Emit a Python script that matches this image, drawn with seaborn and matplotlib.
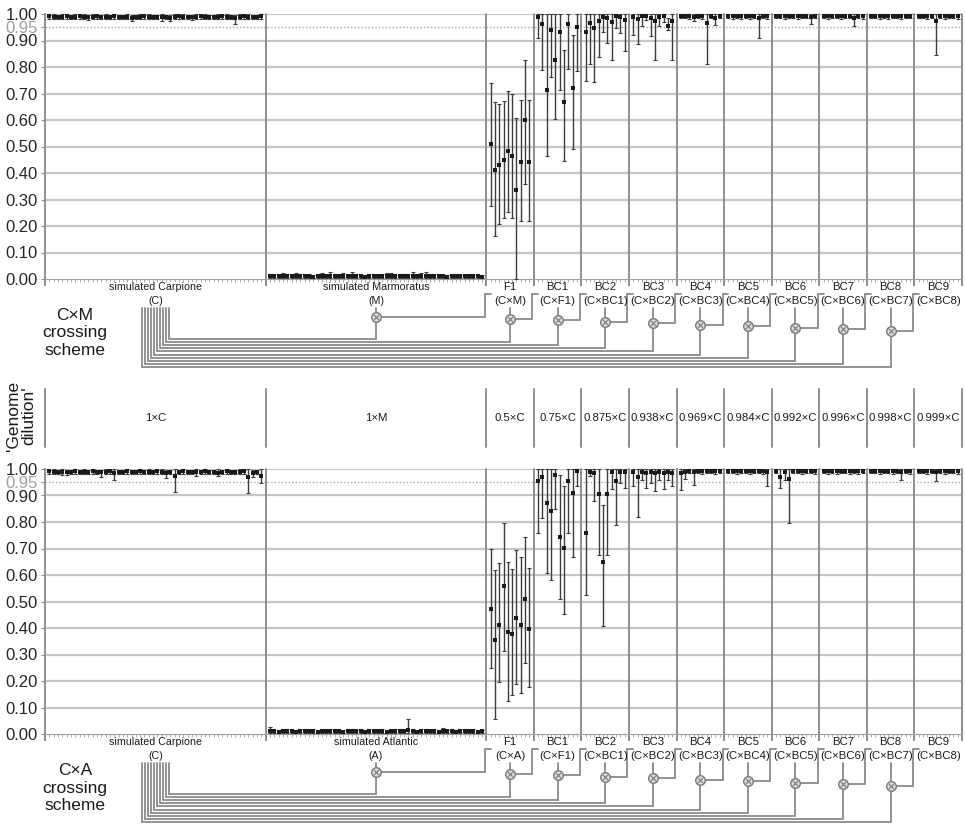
import numpy as np
import pandas as pd
import matplotlib
matplotlib.use("Agg")
import matplotlib.pyplot as plt
import seaborn as sns

sns.set_theme(style="white")
plt.rcParams['font.family'] = ['Liberation Sans', 'DejaVu Sans']

# === 数据 ===
names_cm = ["simulated Carpione", "simulated Marmoratus", "F1", "BC1", "BC2", "BC3",
            "BC4", "BC5", "BC6", "BC7", "BC8", "BC9"]
parents_cm = ["(C)", "(M)", "(C×M)", "(C×F1)", "(C×BC1)", "(C×BC2)", "(C×BC3)",
              "(C×BC4)", "(C×BC5)", "(C×BC6)", "(C×BC7)", "(C×BC8)"]
names_ca = ["simulated Carpione", "simulated Atlantic", "F1", "BC1", "BC2", "BC3",
            "BC4", "BC5", "BC6", "BC7", "BC8", "BC9"]
parents_ca = ["(C)", "(A)", "(C×A)", "(C×F1)", "(C×BC1)", "(C×BC2)", "(C×BC3)",
              "(C×BC4)", "(C×BC5)", "(C×BC6)", "(C×BC7)", "(C×BC8)"]
dilution = ["1×C", "1×M", "0.5×C", "0.75×C", "0.875×C", "0.938×C", "0.969×C",
            "0.984×C", "0.992×C", "0.996×C", "0.998×C", "0.999×C"]

# --- C x M ---
carp_cm_mean = [0.991, 0.990, 0.989, 0.990, 0.991, 0.989, 0.990, 0.991, 0.990, 0.988,
                0.990, 0.991, 0.989, 0.990, 0.990, 0.991, 0.989, 0.990, 0.990, 0.986,
                0.990, 0.989, 0.991, 0.990, 0.989, 0.990, 0.987, 0.990, 0.986, 0.990,
                0.991, 0.989, 0.990, 0.988, 0.990, 0.991, 0.989, 0.990, 0.990, 0.989,
                0.991, 0.990, 0.989, 0.984, 0.990, 0.991, 0.990, 0.989, 0.990, 0.991]
carp_cm_lo = [0.983, 0.982, 0.980, 0.983, 0.982, 0.981, 0.983, 0.982, 0.983, 0.979,
              0.982, 0.983, 0.981, 0.982, 0.983, 0.982, 0.980, 0.982, 0.983, 0.972,
              0.982, 0.981, 0.983, 0.982, 0.980, 0.982, 0.975, 0.982, 0.973, 0.982,
              0.983, 0.981, 0.982, 0.978, 0.982, 0.983, 0.980, 0.982, 0.983, 0.981,
              0.982, 0.983, 0.980, 0.962, 0.982, 0.983, 0.982, 0.980, 0.982, 0.983]
carp_cm_hi = [0.998, 0.999, 0.998, 0.999, 0.998, 0.998, 0.999, 0.998, 0.999, 0.998,
              0.999, 0.998, 0.998, 0.999, 0.998, 0.999, 0.998, 0.998, 0.999, 0.998,
              0.998, 0.999, 0.998, 0.999, 0.998, 0.998, 0.999, 0.998, 0.998, 0.999,
              0.998, 0.999, 0.998, 0.998, 0.999, 0.998, 0.999, 0.998, 0.998, 0.999,
              0.998, 0.999, 0.998, 0.998, 0.999, 0.998, 0.999, 0.998, 0.998, 0.999]
marm_mean = [0.010, 0.011, 0.010, 0.012, 0.011, 0.010, 0.012, 0.011, 0.010, 0.011,
             0.009, 0.010, 0.011, 0.010, 0.012, 0.011, 0.010, 0.011, 0.010, 0.012,
             0.011, 0.010, 0.009, 0.010, 0.011, 0.010, 0.010, 0.011, 0.012, 0.010,
             0.011, 0.010, 0.011, 0.012, 0.010, 0.011, 0.012, 0.011, 0.010, 0.011,
             0.010, 0.009, 0.010, 0.011, 0.010, 0.010, 0.011, 0.010, 0.010, 0.009]
marm_lo = [0.004, 0.005, 0.004, 0.005, 0.004, 0.004, 0.005, 0.004, 0.004, 0.005,
           0.003, 0.004, 0.005, 0.004, 0.005, 0.004, 0.004, 0.005, 0.004, 0.005,
           0.004, 0.004, 0.003, 0.004, 0.005, 0.004, 0.004, 0.005, 0.005, 0.004,
           0.004, 0.004, 0.005, 0.005, 0.004, 0.004, 0.005, 0.004, 0.004, 0.005,
           0.004, 0.003, 0.004, 0.005, 0.004, 0.004, 0.004, 0.004, 0.004, 0.003]
marm_hi = [0.017, 0.019, 0.016, 0.022, 0.018, 0.016, 0.024, 0.019, 0.016, 0.020,
           0.015, 0.017, 0.021, 0.016, 0.025, 0.019, 0.016, 0.022, 0.017, 0.025,
           0.019, 0.016, 0.015, 0.017, 0.020, 0.016, 0.017, 0.021, 0.024, 0.016,
           0.020, 0.017, 0.019, 0.025, 0.017, 0.022, 0.026, 0.020, 0.017, 0.019,
           0.016, 0.015, 0.017, 0.019, 0.016, 0.016, 0.018, 0.016, 0.016, 0.015]
f1_cm_mean = [0.508, 0.412, 0.430, 0.448, 0.483, 0.465, 0.334, 0.440, 0.601, 0.440]
f1_cm_lo = [0.274, 0.163, 0.206, 0.231, 0.253, 0.231, 0.000, 0.218, 0.359, 0.218]
f1_cm_hi = [0.740, 0.668, 0.662, 0.672, 0.710, 0.700, 0.609, 0.675, 0.826, 0.675]
bc1_cm_mean = [0.990, 0.962, 0.715, 0.939, 0.828, 0.933, 0.668, 0.962, 0.719, 0.952]
bc1_cm_lo = [0.908, 0.788, 0.465, 0.763, 0.605, 0.715, 0.445, 0.794, 0.490, 0.786]
bc1_cm_hi = [1.000, 1.000, 1.000, 1.000, 1.000, 1.000, 0.866, 1.000, 0.921, 1.000]
bc2_cm_mean = [0.933, 0.967, 0.946, 0.975, 0.990, 0.984, 0.971, 0.992, 0.987, 0.977]
bc2_cm_lo = [0.748, 0.813, 0.745, 0.836, 0.933, 0.892, 0.828, 0.946, 0.927, 0.860]
bc2_cm_hi = [1.000, 1.000, 1.000, 1.000, 1.000, 1.000, 1.000, 1.000, 1.000, 1.000]
bc3_cm_mean = [0.987, 0.980, 0.992, 0.994, 0.985, 0.975, 0.990, 0.992, 0.955, 0.975]
bc3_cm_lo = [0.921, 0.886, 0.955, 0.977, 0.917, 0.828, 0.955, 0.971, 0.940, 0.826]
bc3_cm_hi = [1.000, 1.000, 1.000, 1.000, 1.000, 1.000, 1.000, 1.000, 0.985, 1.000]
bc4_cm_mean = [0.993, 0.993, 0.992, 0.990, 0.993, 0.992, 0.967, 0.993, 0.985, 0.993]
bc4_cm_lo = [0.985, 0.985, 0.980, 0.975, 0.985, 0.983, 0.813, 0.985, 0.958, 0.985]
bc4_cm_hi = [0.999, 0.999, 0.999, 0.999, 0.999, 0.999, 1.000, 0.999, 1.000, 0.999]
bc5_cm_mean = [0.993, 0.992, 0.993, 0.991, 0.993, 0.992, 0.993, 0.984, 0.993, 0.992]
bc5_cm_lo = [0.985, 0.983, 0.985, 0.980, 0.985, 0.983, 0.985, 0.908, 0.985, 0.983]
bc5_cm_hi = [0.999, 0.999, 0.999, 0.999, 0.999, 0.999, 0.999, 1.000, 0.999, 0.999]
bc6_cm_mean = [0.993, 0.993, 0.992, 0.993, 0.993, 0.992, 0.993, 0.993, 0.988, 0.993]
bc6_cm_lo = [0.985, 0.985, 0.983, 0.985, 0.985, 0.983, 0.985, 0.985, 0.962, 0.985]
bc6_cm_hi = [0.999, 0.999, 0.999, 0.999, 0.999, 0.999, 0.999, 0.999, 1.000, 0.999]
bc7_cm_mean = [0.993, 0.992, 0.993, 0.993, 0.992, 0.993, 0.993, 0.986, 0.993, 0.992]
bc7_cm_lo = [0.985, 0.983, 0.985, 0.985, 0.983, 0.985, 0.985, 0.955, 0.985, 0.983]
bc7_cm_hi = [0.999, 0.999, 0.999, 0.999, 0.999, 0.999, 0.999, 1.000, 0.999, 0.999]
bc8_cm_mean = [0.993, 0.993, 0.992, 0.993, 0.992, 0.993, 0.993, 0.992, 0.993, 0.993]
bc8_cm_lo = [0.985, 0.985, 0.983, 0.985, 0.982, 0.985, 0.985, 0.983, 0.985, 0.985]
bc8_cm_hi = [0.999, 0.999, 0.999, 0.999, 0.999, 0.999, 0.999, 0.999, 0.999, 0.999]
bc9_cm_mean = [0.993, 0.993, 0.992, 0.993, 0.975, 0.993, 0.992, 0.993, 0.993, 0.992]
bc9_cm_lo = [0.985, 0.985, 0.983, 0.985, 0.847, 0.985, 0.983, 0.985, 0.985, 0.980]
bc9_cm_hi = [0.999, 0.999, 0.999, 0.999, 1.000, 0.999, 0.999, 0.999, 0.999, 0.999]

# --- C x A ---
carp_ca_mean = [0.991, 0.990, 0.990, 0.988, 0.988, 0.990, 0.991, 0.990, 0.989, 0.990,
                0.991, 0.990, 0.987, 0.990, 0.991, 0.984, 0.990, 0.989, 0.991, 0.990,
                0.990, 0.991, 0.989, 0.990, 0.990, 0.991, 0.989, 0.986, 0.990, 0.975,
                0.990, 0.991, 0.989, 0.990, 0.987, 0.990, 0.991, 0.990, 0.989, 0.986,
                0.990, 0.991, 0.990, 0.989, 0.990, 0.991, 0.968, 0.986, 0.990, 0.975]
carp_ca_lo = [0.983, 0.982, 0.982, 0.978, 0.978, 0.982, 0.983, 0.982, 0.981, 0.982,
              0.983, 0.982, 0.970, 0.982, 0.983, 0.959, 0.982, 0.981, 0.983, 0.982,
              0.982, 0.983, 0.981, 0.982, 0.982, 0.983, 0.981, 0.965, 0.982, 0.913,
              0.982, 0.983, 0.981, 0.982, 0.975, 0.982, 0.983, 0.982, 0.981, 0.975,
              0.982, 0.983, 0.982, 0.981, 0.982, 0.983, 0.908, 0.970, 0.982, 0.949]
carp_ca_hi = [0.998, 0.999, 0.998, 0.999, 0.998, 0.998, 0.999, 0.998, 0.999, 0.998,
              0.999, 0.998, 0.998, 0.999, 0.998, 0.999, 0.998, 0.998, 0.999, 0.998,
              0.998, 0.999, 0.998, 0.999, 0.998, 0.998, 0.999, 0.998, 0.998, 1.000,
              0.998, 0.999, 0.998, 0.998, 0.999, 0.998, 0.999, 0.998, 0.998, 0.999,
              0.998, 0.999, 0.998, 0.998, 0.999, 0.998, 1.000, 0.998, 0.998, 1.000]
atl_mean = [0.012, 0.010, 0.009, 0.010, 0.011, 0.010, 0.009, 0.010, 0.011, 0.010,
            0.010, 0.009, 0.011, 0.010, 0.010, 0.011, 0.010, 0.009, 0.010, 0.011,
            0.010, 0.010, 0.009, 0.010, 0.011, 0.010, 0.010, 0.009, 0.010, 0.011,
            0.010, 0.010, 0.014, 0.010, 0.009, 0.010, 0.011, 0.010, 0.010, 0.009,
            0.011, 0.010, 0.010, 0.009, 0.010, 0.011, 0.010, 0.010, 0.009, 0.010]
atl_lo = [0.004, 0.003, 0.003, 0.004, 0.004, 0.003, 0.003, 0.004, 0.004, 0.003,
          0.004, 0.003, 0.004, 0.003, 0.004, 0.004, 0.003, 0.003, 0.004, 0.004,
          0.003, 0.004, 0.003, 0.004, 0.004, 0.003, 0.004, 0.003, 0.003, 0.004,
          0.004, 0.003, 0.004, 0.004, 0.003, 0.004, 0.004, 0.003, 0.004, 0.003,
          0.004, 0.003, 0.004, 0.003, 0.004, 0.004, 0.003, 0.004, 0.003, 0.004]
atl_hi = [0.028, 0.016, 0.015, 0.017, 0.019, 0.016, 0.015, 0.017, 0.018, 0.016,
          0.017, 0.015, 0.019, 0.016, 0.017, 0.020, 0.016, 0.015, 0.017, 0.019,
          0.016, 0.017, 0.015, 0.017, 0.020, 0.016, 0.017, 0.015, 0.016, 0.019,
          0.017, 0.016, 0.055, 0.017, 0.015, 0.017, 0.019, 0.016, 0.017, 0.015,
          0.021, 0.016, 0.017, 0.015, 0.017, 0.019, 0.016, 0.017, 0.015, 0.016]
f1_ca_mean = [0.472, 0.354, 0.413, 0.559, 0.385, 0.376, 0.436, 0.410, 0.508, 0.395]
f1_ca_lo = [0.250, 0.057, 0.197, 0.312, 0.124, 0.148, 0.189, 0.154, 0.269, 0.177]
f1_ca_hi = [0.697, 0.619, 0.644, 0.798, 0.650, 0.621, 0.694, 0.667, 0.742, 0.628]
bc1_ca_mean = [0.953, 0.970, 0.871, 0.840, 0.979, 0.742, 0.701, 0.953, 0.909, 0.991]
bc1_ca_lo = [0.758, 0.814, 0.609, 0.583, 0.848, 0.511, 0.452, 0.760, 0.669, 0.934]
bc1_ca_hi = [1.000, 1.000, 1.000, 1.000, 1.000, 0.979, 0.937, 1.000, 1.000, 1.000]
bc2_ca_mean = [0.758, 0.990, 0.985, 0.907, 0.650, 0.907, 0.990, 0.953, 0.990, 0.990]
bc2_ca_lo = [0.524, 0.972, 0.881, 0.676, 0.409, 0.676, 0.924, 0.789, 0.947, 0.928]
bc2_ca_hi = [1.000, 1.000, 1.000, 1.000, 0.865, 1.000, 1.000, 1.000, 1.000, 1.000]
bc3_ca_mean = [0.990, 0.970, 0.990, 0.985, 0.990, 0.985, 0.990, 0.985, 0.990, 0.985]
bc3_ca_lo = [0.934, 0.818, 0.960, 0.928, 0.949, 0.918, 0.960, 0.924, 0.957, 0.934]
bc3_ca_hi = [1.000, 1.000, 1.000, 1.000, 1.000, 1.000, 1.000, 1.000, 1.000, 1.000]
bc4_ca_mean = [0.985, 0.990, 0.993, 0.988, 0.993, 0.992, 0.993, 0.993, 0.992, 0.993]
bc4_ca_lo = [0.922, 0.962, 0.985, 0.941, 0.985, 0.983, 0.985, 0.985, 0.983, 0.985]
bc4_ca_hi = [1.000, 1.000, 0.999, 1.000, 0.999, 0.999, 0.999, 0.999, 0.999, 0.999]
bc5_ca_mean = [0.993, 0.993, 0.992, 0.993, 0.993, 0.992, 0.993, 0.993, 0.992, 0.987]
bc5_ca_lo = [0.985, 0.985, 0.983, 0.985, 0.985, 0.983, 0.985, 0.985, 0.983, 0.934]
bc5_ca_hi = [0.999, 0.999, 0.999, 0.999, 0.999, 0.999, 0.999, 0.999, 0.999, 1.000]
bc6_ca_mean = [0.993, 0.970, 0.988, 0.962, 0.993, 0.993, 0.992, 0.993, 0.993, 0.992]
bc6_ca_lo = [0.985, 0.928, 0.960, 0.798, 0.985, 0.985, 0.983, 0.985, 0.985, 0.983]
bc6_ca_hi = [0.999, 1.000, 1.000, 1.000, 0.999, 0.999, 0.999, 0.999, 0.999, 0.999]
bc7_ca_mean = [0.993, 0.992, 0.993, 0.992, 0.993, 0.993, 0.992, 0.993, 0.992, 0.993]
bc7_ca_lo = [0.985, 0.982, 0.985, 0.982, 0.985, 0.985, 0.980, 0.985, 0.982, 0.985]
bc7_ca_hi = [0.999, 0.999, 0.999, 0.999, 0.999, 0.999, 0.999, 0.999, 0.999, 0.999]
bc8_ca_mean = [0.993, 0.993, 0.992, 0.993, 0.993, 0.992, 0.993, 0.988, 0.993, 0.992]
bc8_ca_lo = [0.985, 0.985, 0.983, 0.985, 0.985, 0.982, 0.985, 0.960, 0.985, 0.983]
bc8_ca_hi = [0.999, 0.999, 0.999, 0.999, 0.999, 0.999, 0.999, 1.000, 0.999, 0.999]
bc9_ca_mean = [0.993, 0.993, 0.992, 0.993, 0.988, 0.993, 0.992, 0.993, 0.993, 0.992]
bc9_ca_lo = [0.985, 0.985, 0.983, 0.985, 0.953, 0.985, 0.983, 0.985, 0.985, 0.983]
bc9_ca_hi = [0.999, 0.999, 0.999, 0.999, 1.000, 0.999, 0.999, 0.999, 0.999, 0.999]

panel_cm = [(carp_cm_mean, carp_cm_lo, carp_cm_hi), (marm_mean, marm_lo, marm_hi),
            (f1_cm_mean, f1_cm_lo, f1_cm_hi), (bc1_cm_mean, bc1_cm_lo, bc1_cm_hi),
            (bc2_cm_mean, bc2_cm_lo, bc2_cm_hi), (bc3_cm_mean, bc3_cm_lo, bc3_cm_hi),
            (bc4_cm_mean, bc4_cm_lo, bc4_cm_hi), (bc5_cm_mean, bc5_cm_lo, bc5_cm_hi),
            (bc6_cm_mean, bc6_cm_lo, bc6_cm_hi), (bc7_cm_mean, bc7_cm_lo, bc7_cm_hi),
            (bc8_cm_mean, bc8_cm_lo, bc8_cm_hi), (bc9_cm_mean, bc9_cm_lo, bc9_cm_hi)]
panel_ca = [(carp_ca_mean, carp_ca_lo, carp_ca_hi), (atl_mean, atl_lo, atl_hi),
            (f1_ca_mean, f1_ca_lo, f1_ca_hi), (bc1_ca_mean, bc1_ca_lo, bc1_ca_hi),
            (bc2_ca_mean, bc2_ca_lo, bc2_ca_hi), (bc3_ca_mean, bc3_ca_lo, bc3_ca_hi),
            (bc4_ca_mean, bc4_ca_lo, bc4_ca_hi), (bc5_ca_mean, bc5_ca_lo, bc5_ca_hi),
            (bc6_ca_mean, bc6_ca_lo, bc6_ca_hi), (bc7_ca_mean, bc7_ca_lo, bc7_ca_hi),
            (bc8_ca_mean, bc8_ca_lo, bc8_ca_hi), (bc9_ca_mean, bc9_ca_lo, bc9_ca_hi)]

# === 布局 ===
W, H = 965, 824
X0, X1 = 45, 962
sizes = [len(g[0]) for g in panel_cm]
bounds = np.concatenate([[0], np.cumsum([n + 1 for n in sizes])])
centers = (bounds[:-1] + bounds[1:]) / 2
XMAX = bounds[-1]

GRID = "#c6c6c6"
SEP = "#8e8e8e"
LINE = "#8a8a8a"


def axes_px(top, bottom):
    return fig.add_axes([X0 / W, 1 - bottom / H, (X1 - X0) / W, (bottom - top) / H])


def draw_panel(top, panel):
    ax = axes_px(top, top + 265)
    rows = []
    for g, (m, lo, hi) in enumerate(panel):
        for k in range(len(m)):
            rows.append({"x": bounds[g] + 1 + k, "mean": m[k], "lo": lo[k], "hi": hi[k]})
    df = pd.DataFrame(rows)

    for v in np.arange(1, 11) / 10:
        ax.axhline(v, color=GRID, lw=1.6, zorder=0)
    ax.axhline(0.95, color="#a8a8a8", lw=1.0, ls=(0, (1, 1.5)), zorder=0)
    for b in bounds[1:]:
        ax.axvline(b, color=SEP, lw=1.4, zorder=1, clip_on=False)

    # 误差线 + 均值点
    eb = ax.errorbar(df["x"], df["mean"], yerr=[df["mean"] - df["lo"], df["hi"] - df["mean"]],
                     fmt="none", ecolor="#3c3c3c", elinewidth=1.0, capsize=1.2,
                     capthick=0.8, zorder=3)
    for art in eb.lines[1] + eb.lines[2]:
        art.set_clip_on(False)
    sns.scatterplot(data=df, x="x", y="mean", ax=ax, color="#1a1a1a", marker="s",
                    s=6.5, linewidth=0, zorder=4, legend=False, clip_on=False)

    ax.set_xlim(0, XMAX)
    ax.set_ylim(0, 1)
    yt = [0, .1, .2, .3, .4, .5, .6, .7, .8, .9, .95, 1.0]
    ax.set_yticks(yt)
    ax.set_yticklabels([f"{t:.2f}" for t in yt], fontsize=12)
    ax.get_yticklabels()[10].set_color("#a0a0a0")
    ax.set_xticks(bounds)
    ax.set_xticklabels([])
    ax.set_xticks(df["x"], minor=True)
    ax.tick_params(axis="x", which="major", length=5, width=1.4, color=SEP, bottom=True)
    ax.tick_params(axis="x", which="minor", length=2, width=0.6, color="#a0a0a0", bottom=True)
    ax.tick_params(axis="y", length=3, width=0.8, color=SEP, left=True, pad=2)
    ax.set_xlabel("")
    ax.set_ylabel("")
    for s in ["top", "right"]:
        ax.spines[s].set_visible(False)
    ax.spines["left"].set_color(SEP)
    ax.spines["left"].set_linewidth(1.4)
    ax.spines["bottom"].set_color("#a0a0a0")
    ax.spines["bottom"].set_linewidth(0.8)
    ax.spines["bottom"].set_linestyle((0, (1, 1)))
    return ax


def draw_scheme(top, names, parents, title):
    sch = axes_px(top, top + 92)
    sch.set_xlim(0, XMAX)
    sch.set_ylim(92, 0)
    sch.axis("off")
    for g in range(len(names)):
        fs = 7.7 if g < 2 else 8.2
        sch.text(centers[g], 7, names[g], ha="center", va="center", fontsize=fs, color="#1a1a1a")
        sch.text(centers[g], 21, parents[g], ha="center", va="center", fontsize=fs, color="#1a1a1a")
    cross_x, cross_y = [], []
    for j in range(10):
        g = j + 1
        cx = centers[g]
        cy = 37 + 1.5 * j
        depth = 59 + 3.1 * j
        xc = centers[0] + (4.5 - j) * 0.7
        sch.plot([xc, xc, cx, cx], [28, depth, depth, cy], color=LINE, lw=1.3, zorder=1,
                 solid_joinstyle="miter")
        sch.plot([cx, cx], [28, cy], color=LINE, lw=1.3, zorder=1)
        nb = bounds[g + 1]
        sch.plot([cx, nb - 0.35, nb - 0.35, nb + 1.0], [cy, cy, 14, 14], color=LINE, lw=1.3,
                 zorder=1, solid_joinstyle="miter")
        cross_x.append(cx)
        cross_y.append(cy)
    sch.scatter(cross_x, cross_y, s=48, marker="o", facecolor="#dcdcdc", edgecolor="#7a7a7a",
                linewidth=1.0, zorder=3)
    sch.scatter(cross_x, cross_y, s=16, marker="x", color="#7a7a7a", linewidth=0.8, zorder=4)
    fig.text(75 / W, 1 - (top + 53) / H, title, ha="center", va="center", fontsize=12.5,
             linespacing=1.2, color="#1a1a1a")


fig = plt.figure(figsize=(W / 100, H / 100), dpi=100)

draw_panel(14, panel_cm)
draw_scheme(280, names_cm, parents_cm, "C×M\ncrossing\nscheme")

# 'Genome dilution' 行
dil = axes_px(382, 454)
dil.set_xlim(0, XMAX)
dil.set_ylim(0, 1)
dil.axis("off")
for b in bounds:
    dil.plot([b, b], [0.1, 0.9], color=SEP, lw=1.4, clip_on=False)
for g, lab in enumerate(dilution):
    dil.text(centers[g], 0.5, lab, ha="center", va="center", fontsize=8.2, color="#1a1a1a")
fig.text(21 / W, 1 - 416 / H, "'Genome\ndilution'", rotation=90, ha="center", va="center",
         fontsize=12.5, linespacing=1.0, color="#1a1a1a")

draw_panel(469, panel_ca)
draw_scheme(735, names_ca, parents_ca, "C×A\ncrossing\nscheme")

fig.savefig("out.png", dpi=100)
